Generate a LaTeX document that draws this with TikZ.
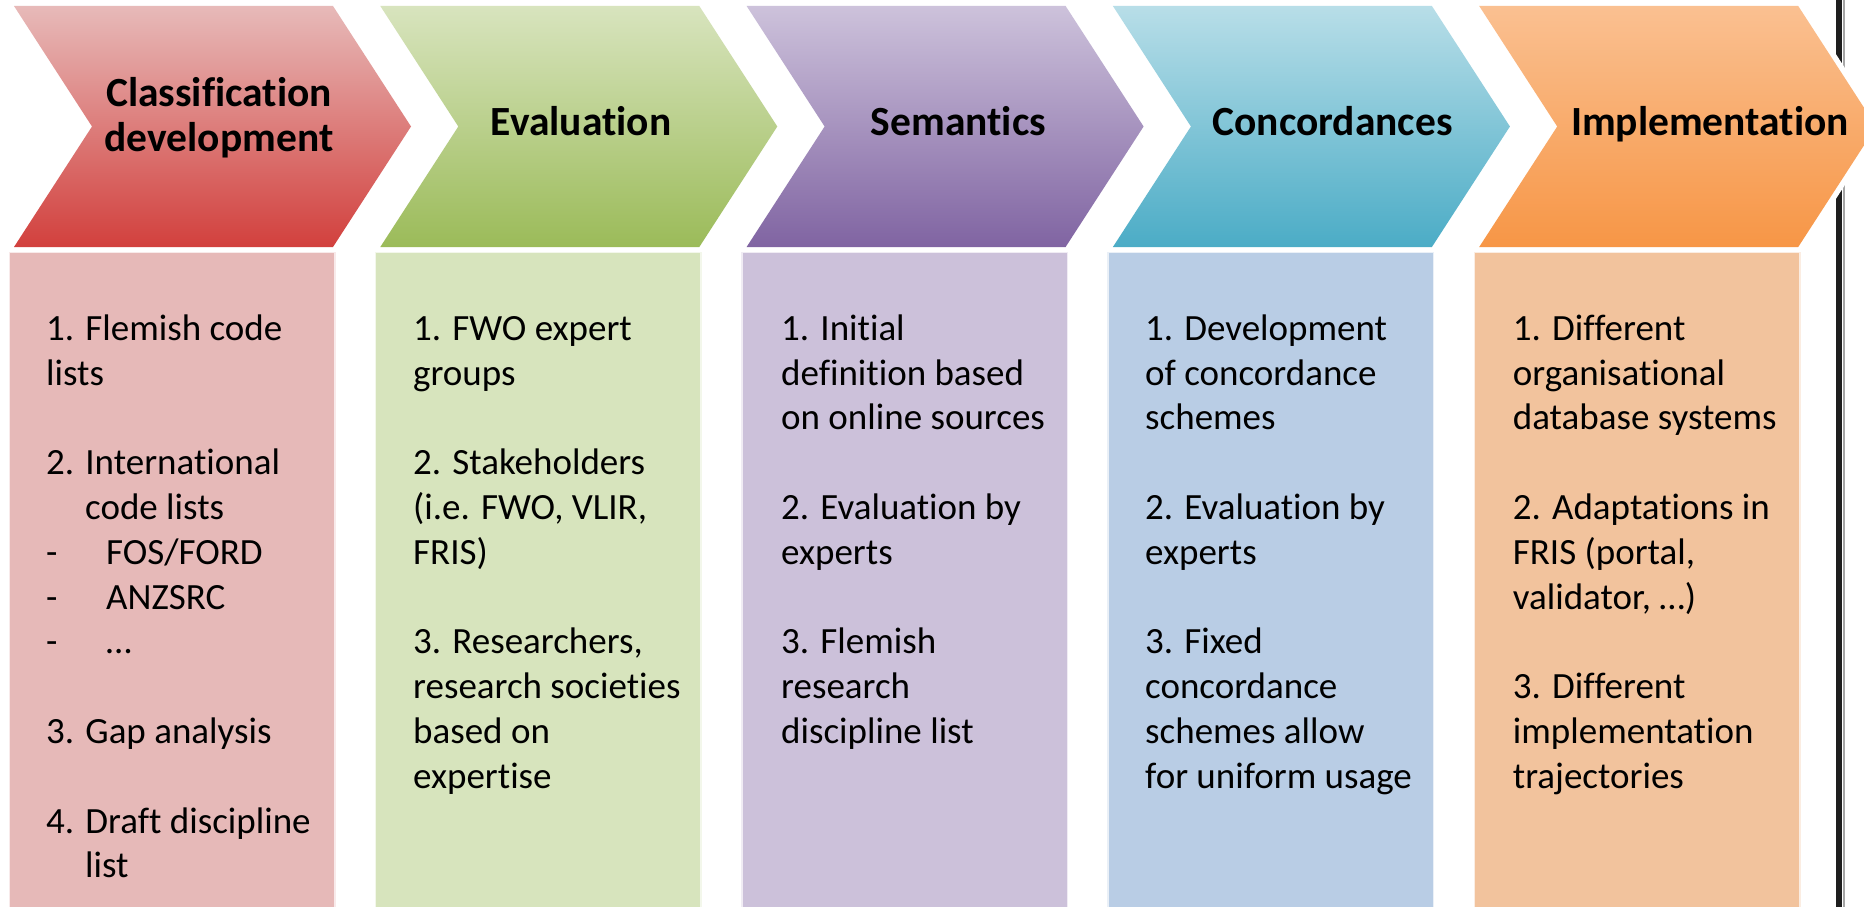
\documentclass[tikz,border=0pt]{standalone}
\usepackage{fontspec}
\setmainfont{Carlito}[Ligatures={NoCommon,NoRare,NoDiscretionary}]
\definecolor{c1t}{RGB}{231,186,185}
\definecolor{c1b}{RGB}{210,64,61}
\definecolor{c2t}{RGB}{216,228,190}
\definecolor{c2b}{RGB}{155,187,89}
\definecolor{c3t}{RGB}{205,194,219}
\definecolor{c3b}{RGB}{128,100,162}
\definecolor{c4t}{RGB}{184,222,232}
\definecolor{c4b}{RGB}{75,172,198}
\definecolor{c5t}{RGB}{250,192,145}
\definecolor{c5b}{RGB}{247,150,70}
\definecolor{b1}{RGB}{230,185,184}
\definecolor{b2}{RGB}{215,228,189}
\definecolor{b3}{RGB}{204,193,218}
\definecolor{b4}{RGB}{185,205,229}
\definecolor{b5}{RGB}{242,195,157}
\definecolor{sepline}{RGB}{30,30,30}
\newcommand\chevshape[1]{(#1,6) -- ++(319,0) -- ++(78,120.5) -- ++(-78,120.5) -- ++(-319,0) -- ++(78,-120.5) -- cycle}
\begin{document}
\begin{tikzpicture}[x=1pt,y=-1pt,
  chev/.style={preaction={draw=white,line width=11pt,line join=miter}},
  panel/.style={draw=white!70!#1,line width=1.5pt,fill=#1},
  hdr/.style={inner sep=0pt,font=\fontsize{41.5}{45.7}\selectfont\bfseries,text=black},
  body/.style={inner sep=0pt,anchor=north west,align=left,font=\fontsize{37}{44.8}\selectfont,text=black}]
\useasboundingbox (0,0) rectangle (1864,907);
\clip (0,0) rectangle (1864,907);
\fill[white] (0,0) rectangle (1864,907);
% separator line
\draw[line width=2pt,color=black!35] (1843.5,0) -- (1843.5,907);
\draw[line width=5.5pt,color=sepline] (1839,0) -- (1839,907);
% chevrons
\shade[chev,top color=c1t,bottom color=c1b] \chevshape{14};
\shade[chev,top color=c2t,bottom color=c2b] \chevshape{380.3};
\shade[chev,top color=c3t,bottom color=c3b] \chevshape{746.6};
\shade[chev,top color=c4t,bottom color=c4b] \chevshape{1112.9};
\shade[chev,top color=c5t,bottom color=c5b] \chevshape{1479.2};
% panels
\path[panel=b1] (9.3,252.5) rectangle ++(325.5,670);
\path[panel=b2] (375.6,252.5) rectangle ++(325.5,670);
\path[panel=b3] (741.9,252.5) rectangle ++(325.5,670);
\path[panel=b4] (1108.2,252.5) rectangle ++(325.5,670);
\path[panel=b5] (1474.5,252.5) rectangle ++(325.5,670);
% headers
\node[hdr,anchor=north,align=center] (h1) at (219,74) {\vrule height 32pt width 0pt Classification\\development};
\node[hdr,anchor=base] (h2) at (581,135) {Evaluation};
\node[hdr,anchor=base] (h3) at (958.5,135) {Semantics};
\node[hdr,anchor=base] (h4) at (1332.6,135) {Concordances};
\node[hdr,anchor=base] (h5) at (1710,135) {Implementation};
% bodies
\node[body] (t1) at (46,310) {\vrule height 30pt width 0pt 1. Flemish code\\lists\\[44.8pt]
2. International\\\hspace*{39pt}code lists\\
\makebox[60pt][l]{-}FOS/FORD\\\makebox[60pt][l]{-}ANZSRC\\\makebox[60pt][l]{-}…\\[44.8pt]
3. Gap analysis\\[44.8pt]
4. Draft discipline\\\hspace*{39pt}list};
\node[body] (t2) at (413,310) {\vrule height 30pt width 0pt 1. FWO expert\\groups\\[44.8pt]
2. Stakeholders\\(i.e. FWO, VLIR,\\FRIS)\\[44.8pt]
3. Researchers,\\research societies\\based on\\expertise};
\node[body] (t3) at (781,310) {\vrule height 30pt width 0pt 1. Initial\\definition based\\on online sources\\[44.8pt]
2. Evaluation by\\experts\\[44.8pt]
3. Flemish\\research\\discipline list};
\node[body] (t4) at (1145,310) {\vrule height 30pt width 0pt 1. Development\\of concordance\\schemes\\[44.8pt]
2. Evaluation by\\experts\\[44.8pt]
3. Fixed\\concordance\\schemes allow\\for uniform usage};
\node[body] (t5) at (1512.7,310) {\vrule height 30pt width 0pt 1. Different\\organisational\\database systems\\[44.8pt]
2. Adaptations in\\FRIS (portal,\\validator, …)\\[44.8pt]
3. Different\\implementation\\trajectories};
\end{tikzpicture}
\end{document}
